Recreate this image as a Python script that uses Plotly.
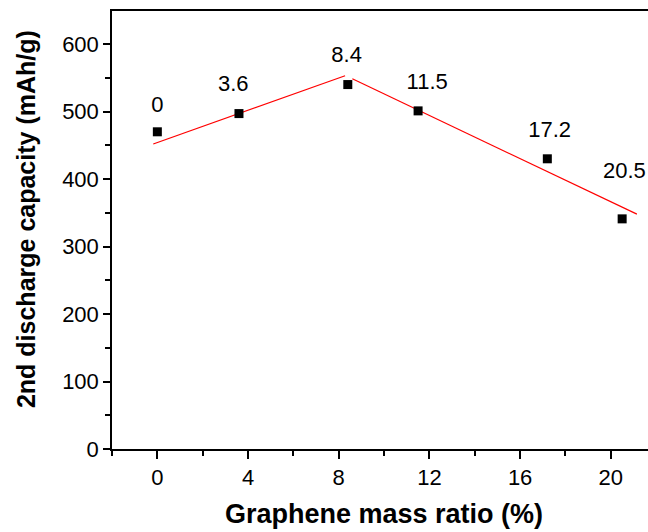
import plotly.graph_objects as go

# Data
ratio = [0, 3.6, 8.4, 11.5, 17.2, 20.5]
capacity = [470, 497, 540, 501, 430, 341]
point_labels = ["0", "3.6", "8.4", "11.5", "17.2", "20.5"]
label_x = [0.0, 3.35, 8.35, 11.9, 17.3, 20.6]
label_y = [507, 539, 581, 542, 471, 409]

fit1_x = [-0.18, 8.28]
fit1_y = [452, 553]
fit2_x = [8.6, 21.15]
fit2_y = [548.5, 348]

FONT = "Liberation Sans, Arial, sans-serif"

fig = go.Figure()
fig.add_trace(go.Scatter(x=fit1_x, y=fit1_y, mode="lines",
                         line=dict(color="#ff0000", width=1.2), showlegend=False, hoverinfo="skip"))
fig.add_trace(go.Scatter(x=fit2_x, y=fit2_y, mode="lines",
                         line=dict(color="#ff0000", width=1.2), showlegend=False, hoverinfo="skip"))
fig.add_trace(go.Scatter(x=ratio, y=capacity, mode="markers",
                         marker=dict(symbol="square", size=9, color="black"),
                         showlegend=False))
fig.add_trace(go.Scatter(x=label_x, y=label_y, mode="text", text=point_labels,
                         textfont=dict(family=FONT, size=22, color="black"),
                         showlegend=False, hoverinfo="skip", cliponaxis=False))

fig.update_layout(
    width=648, height=532,
    margin=dict(l=112, r=0, t=11, b=83),
    paper_bgcolor="white", plot_bgcolor="white",
    font=dict(family=FONT, color="black"),
    xaxis=dict(range=[-2, 21.64], tick0=0, dtick=4, ticks="outside", ticklen=8, tickwidth=1.5,
               tickcolor="black", showline=True, linecolor="black", linewidth=1.5, mirror=True,
               showgrid=False, zeroline=False, tickfont=dict(size=22, family=FONT),
               minor=dict(dtick=2, ticks="outside", ticklen=5, tickwidth=1.5, tickcolor="black", showgrid=False)),
    yaxis=dict(range=[0, 649], tick0=0, dtick=100, ticks="outside", ticklen=7, tickwidth=1.5,
               tickcolor="black", showline=True, linecolor="black", linewidth=1.5,
               showgrid=False, zeroline=False, tickfont=dict(size=22, family=FONT),
               minor=dict(dtick=50, ticks="outside", ticklen=5, tickwidth=1.5, tickcolor="black", showgrid=False)),
    annotations=[
        dict(text="<b>Graphene mass ratio (%)</b>", xref="paper", yref="paper", x=0.507, y=0,
             xanchor="center", yanchor="middle", yshift=-65, showarrow=False,
             font=dict(size=27, family=FONT)),
        dict(text="<b>2nd discharge capacity (mAh/g)</b>", xref="paper", yref="paper", x=0, y=0.525,
             xanchor="center", yanchor="middle", xshift=-86, textangle=-90, showarrow=False,
             font=dict(size=25, family=FONT)),
    ],
)

fig.write_html("out.html")
